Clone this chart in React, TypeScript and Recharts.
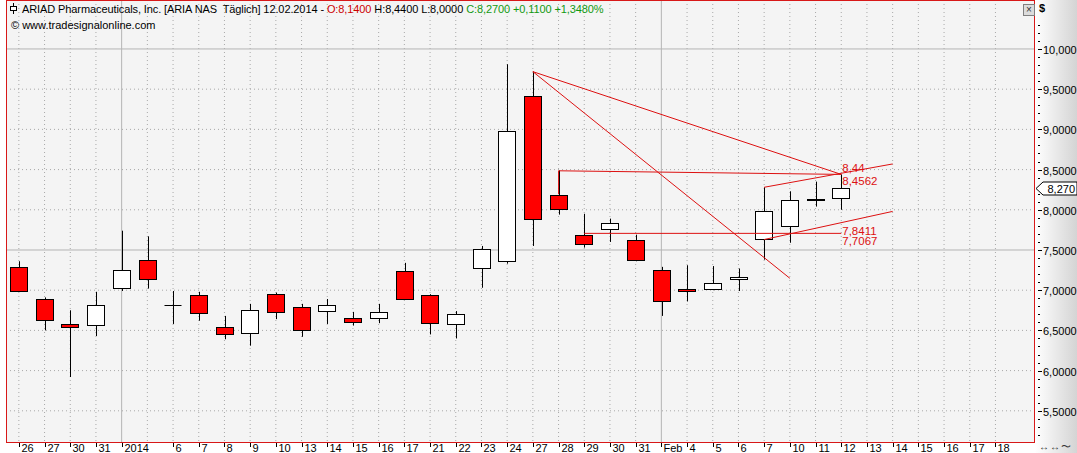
import React from 'react';
import { ComposedChart, Bar, XAxis, YAxis, CartesianGrid, ReferenceLine, ReferenceDot } from 'recharts';

const FONT = '"Liberation Sans", Arial, sans-serif';
const RED = '#dd1111';

// trading days (plus a few empty future slots on the right)
const dates = [
  '2013-12-26', '2013-12-27', '2013-12-30', '2013-12-31', '2014-01-02', '2014-01-03',
  '2014-01-06', '2014-01-07', '2014-01-08', '2014-01-09', '2014-01-10',
  '2014-01-13', '2014-01-14', '2014-01-15', '2014-01-16', '2014-01-17',
  '2014-01-21', '2014-01-22', '2014-01-23', '2014-01-24',
  '2014-01-27', '2014-01-28', '2014-01-29', '2014-01-30', '2014-01-31',
  '2014-02-03', '2014-02-04', '2014-02-05', '2014-02-06', '2014-02-07',
  '2014-02-10', '2014-02-11', '2014-02-12', '2014-02-13', '2014-02-14',
  '2014-02-15', '2014-02-16', '2014-02-17', '2014-02-18', '2014-02-19',
];
const tickLabels = [
  '26', '27', '30', '31', '2014', '',
  '6', '7', '8', '9', '10',
  '13', '14', '15', '16', '17',
  '21', '22', '23', '24',
  '27', '28', '29', '30', '31',
  'Feb', '4', '5', '6', '7',
  '10', '11', '12', '13', '14',
  '15', '16', '17', '18', '',
];

const opens = [7.29, 6.89, 6.58, 6.56, 7.02, 7.38, 6.81, 6.94, 6.54, 6.46, 6.95, 6.79, 6.73, 6.66, 6.66, 7.24, 6.94, 6.58, 7.27, 7.36, 9.42, 8.19, 7.69, 7.76, 7.63, 7.25, 7.01, 7.01, 7.14, 7.63, 7.8, 8.14, 8.14];
const highs = [7.36, 6.91, 6.75, 6.98, 7.74, 7.67, 6.99, 6.98, 6.68, 6.83, 6.97, 6.83, 6.89, 6.73, 6.83, 7.34, 6.95, 6.74, 7.55, 9.81, 9.72, 8.49, 7.95, 7.89, 7.69, 7.29, 7.31, 7.3, 7.27, 8.28, 8.23, 8.35, 8.44];
const lows = [6.98, 6.5, 5.92, 6.43, 6.99, 7.02, 6.58, 6.62, 6.39, 6.31, 6.64, 6.42, 6.58, 6.56, 6.59, 6.88, 6.45, 6.4, 7.03, 7.33, 7.55, 7.94, 7.53, 7.6, 7.36, 6.68, 6.86, 7.0, 6.99, 7.38, 7.59, 8.04, 8.0];
const closes = [6.99, 6.63, 6.54, 6.81, 7.25, 7.14, 6.81, 6.71, 6.45, 6.75, 6.73, 6.51, 6.81, 6.61, 6.73, 6.89, 6.59, 6.7, 7.51, 8.98, 7.89, 8.02, 7.58, 7.83, 7.38, 6.87, 6.99, 7.09, 7.17, 7.98, 8.12, 8.13, 8.27];

const lastClose = 8.27;

const majorTicks = [5.5, 6, 6.5, 7, 7.5, 8, 8.5, 9, 9.5, 10];
const minorTicks = [
  5.2, 5.3, 5.4, 5.6, 5.7, 5.8, 5.9, 6.1, 6.2, 6.3, 6.4, 6.6, 6.7, 6.8, 6.9,
  7.1, 7.2, 7.3, 7.4, 7.6, 7.7, 7.8, 7.9, 8.1, 8.2, 8.3, 8.4, 8.6, 8.7, 8.8, 8.9,
  9.1, 9.2, 9.3, 9.4, 9.6, 9.7, 9.8, 9.9, 10.1, 10.2, 10.3,
];
const solidPrice = [7.5, 10];
const dottedPrice = [5.5, 6, 6.5, 7, 8, 8.5, 9, 9.5];
const solidDates = ['2014-01-02', '2014-02-03'];
const dottedDates = dates.filter((d) => !solidDates.includes(d) && d !== '2014-02-19');

// drawn trend lines: [from date, from price, to date, to price]
const trendLines: [string, number, string, number][] = [
  ['2014-01-27', 9.718, '2014-02-12', 8.44],
  ['2014-01-27', 9.718, '2014-02-10', 7.148],
  ['2014-01-28', 8.485, '2014-02-12', 8.44],
  ['2014-01-28', 8.193, '2014-01-28', 8.485],
  ['2014-01-29', 7.7067, '2014-02-12', 7.7067],
  ['2014-02-07', 8.28, '2014-02-14', 8.57],
  ['2014-02-07', 7.63, '2014-02-14', 7.98],
];
const levelLabels = [
  { value: 8.44, text: '8,44', above: true },
  { value: 8.4562, text: '8,4562', above: false },
  { value: 7.8411, text: '7,8411', above: false },
  { value: 7.7067, text: '7,7067', above: false },
];

const data = dates.map((date, i) => ({
  date,
  open: opens[i],
  high: highs[i],
  low: lows[i],
  close: closes[i],
  range: i < opens.length ? [lows[i], highs[i]] : null,
}));

const labelOf: Record<string, string> = {};
dates.forEach((d, i) => (labelOf[d] = tickLabels[i]));

const fmtPrice = (v: number) => (v >= 10 ? v.toFixed(3) : v.toFixed(4)).replace('.', ',');

const Candle = (props: any) => {
  const { x, y, width, height, payload } = props;
  if (!payload || payload.open == null) return null;
  const { open, close, high, low } = payload;
  const top = Math.min(y, y + height);
  const h = Math.abs(height);
  const py = (v: number) => (high === low ? top : top + ((high - v) / (high - low)) * h);
  const cx = Math.round(x + width / 2) + 0.5;
  const left = Math.round(x) + 0.5;
  const w = Math.round(width) - 1;
  const yo = py(open);
  const yc = py(close);
  const bTop = Math.round(Math.min(yo, yc)) + 0.5;
  const bH = Math.round(Math.abs(yo - yc));
  const up = close >= open;
  return (
    <g>
      <line x1={cx} x2={cx} y1={top} y2={top + h} stroke="#000" strokeWidth={1} />
      {bH < 1 ? (
        <line x1={left} x2={left + w} y1={bTop} y2={bTop} stroke="#000" strokeWidth={1} />
      ) : (
        <rect x={left} y={bTop} width={w} height={bH} fill={up ? '#ffffff' : '#ff0000'} stroke="#000" strokeWidth={1} />
      )}
    </g>
  );
};

const XTick = ({ x, y, payload }: any) => {
  const lbl = labelOf[payload.value];
  if (!lbl) return null;
  const px = Math.round(x) + 0.5;
  return (
    <g>
      <line x1={px} x2={px} y1={y + 1} y2={y + 5} stroke="#000" />
      <text x={px + 2} y={y + 10} fontSize={11} fontFamily={FONT} fill="#000">
        {lbl}
      </text>
    </g>
  );
};

const YTick = ({ x, y, payload }: any) => {
  const v = payload.value;
  const py = Math.round(y) + 0.5;
  if (v === lastClose) {
    return (
      <g>
        <polygon
          points={`${x + 2},${py} ${x + 9},${py - 6.5} ${x + 43},${py - 6.5} ${x + 43},${py + 6.5} ${x + 9},${py + 6.5}`}
          fill="#fff"
          stroke="#000"
        />
        <text x={x + 41} y={py + 4} textAnchor="end" fontSize={11} fontFamily={FONT} fill="#000">
          {fmtPrice(v).slice(0, 5)}
        </text>
      </g>
    );
  }
  const major = majorTicks.includes(v);
  return (
    <g>
      <line x1={x + 4} x2={x + (major ? 8 : 6)} y1={py} y2={py} stroke="#000" />
      {major && (
        <text x={x + 9} y={py + 4} fontSize={11} fontFamily={FONT} fill="#000">
          {fmtPrice(v)}
        </text>
      )}
    </g>
  );
};

export default function App() {
  return (
    <div style={{ position: 'absolute', left: 0, top: 0, width: 1077, height: 453, background: '#fff', overflow: 'hidden', fontFamily: FONT }}>
      <div style={{ position: 'absolute', left: 1035, top: 0, width: 42, height: 453, background: 'linear-gradient(to right, #ffffff, #d4d4d4)' }} />
      <div style={{ position: 'absolute', left: 0, top: 0 }}>
        <ComposedChart width={1077} height={453} data={data} margin={{ top: 0, right: 0, left: 6, bottom: 0 }}>
          <CartesianGrid
            fill="#f4f4f4"
            stroke="#a8a8a8"
            strokeDasharray="1 3"
            horizontalValues={dottedPrice}
            verticalValues={dottedDates}
          />
          <CartesianGrid stroke="#b4b4b4" horizontalValues={solidPrice} verticalValues={solidDates} />
          <XAxis
            dataKey="date"
            interval={0}
            height={11}
            tickLine={false}
            axisLine={false}
            tickSize={0}
            tickMargin={0}
            tick={(p: any) => <XTick {...p} />}
          />
          <YAxis
            orientation="right"
            type="number"
            width={43}
            domain={[5.112, 10.609]}
            allowDataOverflow
            ticks={[...minorTicks, ...majorTicks, lastClose]}
            interval={0}
            tickLine={false}
            axisLine={false}
            tickSize={0}
            tickMargin={0}
            tick={(p: any) => <YTick {...p} />}
          />
          <Bar dataKey="range" barSize={18} isAnimationActive={false} shape={(p: any) => <Candle {...p} />} />
          {trendLines.map(([d1, v1, d2, v2], i) => (
            <ReferenceLine
              key={`t${i}`}
              segment={[{ x: d1, y: v1 }, { x: d2, y: v2 }]}
              stroke={RED}
              strokeWidth={1}
              ifOverflow="visible"
            />
          ))}
          {levelLabels.map((l) => (
            <ReferenceDot
              key={l.text}
              x="2014-02-12"
              y={l.value}
              r={0}
              ifOverflow="visible"
              shape={(p: any) => (
                <text x={p.cx + 1} y={p.cy + (l.above ? -2 : 12)} fontSize={11.5} fontFamily={FONT} fill={RED}>
                  {l.text}
                </text>
              )}
            />
          ))}
        </ComposedChart>
      </div>
      <div style={{ position: 'absolute', left: 6, top: 0, width: 1029, height: 443, border: '1px solid #d81818', boxSizing: 'border-box', pointerEvents: 'none' }} />
      <div style={{ position: 'absolute', left: 9, top: 3, fontSize: 11, lineHeight: '13px', letterSpacing: '-0.1px', whiteSpace: 'pre', color: '#000' }}>
        <svg width={10} height={11} style={{ verticalAlign: '-1px', marginRight: 3 }}>
          <line x1={4.5} x2={4.5} y1={0} y2={11} stroke="#000" />
          <rect x={1.5} y={3.5} width={6} height={4} fill="#fff" stroke="#000" />
        </svg>
        ARIAD Pharmaceuticals, Inc. [ARIA NAS  Täglich] 12.02.2014 - <span style={{ color: '#cc0000' }}>O:8,1400</span> H:8,4400 L:8,0000{' '}
        <span style={{ color: '#119911' }}>C:8,2700 +0,1100 +1,3480%</span>
      </div>
      <div style={{ position: 'absolute', left: 11, top: 19, fontSize: 11, lineHeight: '13px', whiteSpace: 'pre', color: '#000' }}>
        © www.tradesignalonline.com
      </div>
      <div style={{ position: 'absolute', left: 1023, top: 4, width: 10, height: 10, border: '1px solid #808080', background: '#dcdcdc', fontSize: 10, lineHeight: '10px', textAlign: 'center', color: '#333' }}>
        ×
      </div>
      <div style={{ position: 'absolute', left: 1039, top: 2, fontSize: 11, fontWeight: 'bold' }}>$</div>
      <div style={{ position: 'absolute', left: 1039, top: 440, fontSize: 10, letterSpacing: 1, color: '#333' }}>↔↔〜</div>
    </div>
  );
}
